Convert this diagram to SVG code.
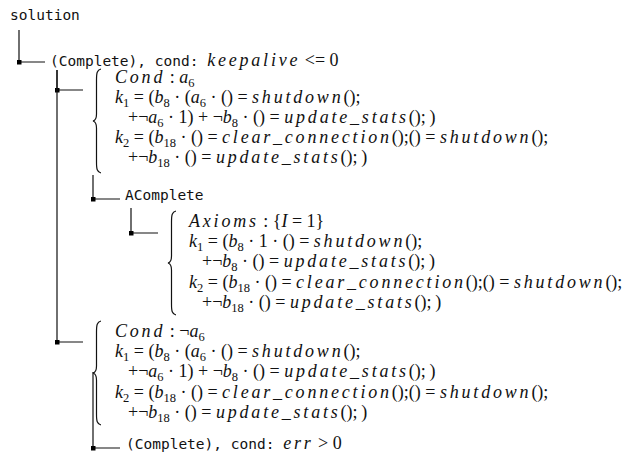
<svg xmlns="http://www.w3.org/2000/svg" width="634" height="455" viewBox="0 0 634 455">
<style>
.t{font-family:"DejaVu Sans Mono","Liberation Mono",monospace;font-size:14.5px;fill:#111}
.m{font-family:"Liberation Serif","Times New Roman",serif;font-size:18px;fill:#111}
.i{font-style:italic;letter-spacing:2.8px}
.v{font-style:italic}
.s{font-size:12.5px;baseline-shift:-3.5px}
.c{fill:none;stroke:#111;stroke-width:1.2;marker-mid:url(#sq)}
.b{fill:none;stroke:#111;stroke-width:1.2}
</style>
<defs>
<marker id="sq" markerWidth="5" markerHeight="5" refX="2.5" refY="2.5" markerUnits="userSpaceOnUse" orient="0"><rect width="5" height="5" fill="#000"/></marker>
</defs>
<g id="connectors">
<path class="c" d="M19,30 V62 H45"/>
<path class="c" d="M57,70 V90 H83"/>
<path class="c" d="M57,70 V342 H83"/>
<path class="c" d="M93,175 V199 H120"/>
<path class="c" d="M131,208 V233 H158"/>
<path class="c" d="M93,372 V448 H120"/>
</g>
<g id="node_solution"><text class="t" x="10" y="20">solution</text></g>
<g id="node_complete_keepalive"><text x="50" y="66"><tspan class="t">(Complete), cond: </tspan><tspan class="m"><tspan class="i">keepalive</tspan> &lt;= 0</tspan></text></g>
<g id="node_cond_a6">
<path class="b" d="M101,69 C97,70 96.5,73 96.5,80 L96.5,114 C96.5,118 95,120.5 93,121 C95,121.5 96.5,124 96.5,128 L96.5,162 C96.5,169 97,172 101,173"/>
<text class="m" x="115" y="83"><tspan class="i">Cond</tspan> : <tspan class="v">a</tspan><tspan class="s">6</tspan></text>
<text class="m" x="115" y="103"><tspan class="v">k</tspan><tspan class="s">1</tspan> = (<tspan class="v">b</tspan><tspan class="s">8</tspan>&#8197;·&#8197;(<tspan class="v">a</tspan><tspan class="s">6</tspan>&#8197;·&#8197;() = <tspan class="i">shutdown</tspan>();</text>
<text class="m" x="128" y="123">+&#172;<tspan class="v">a</tspan><tspan class="s">6</tspan>&#8197;·&#8197;1) + &#172;<tspan class="v">b</tspan><tspan class="s">8</tspan>&#8197;·&#8197;() = <tspan class="i">update_stats</tspan>();&#8201;)</text>
<text class="m" x="115" y="143"><tspan class="v">k</tspan><tspan class="s">2</tspan> = (<tspan class="v">b</tspan><tspan class="s">18</tspan>&#8197;·&#8197;() = <tspan class="i">clear_connection</tspan>();() = <tspan class="i">shutdown</tspan>();</text>
<text class="m" x="128" y="163">+&#172;<tspan class="v">b</tspan><tspan class="s">18</tspan>&#8197;·&#8197;() = <tspan class="i">update_stats</tspan>();&#8201;)</text>
</g>
<g id="node_acomplete"><text class="t" x="125" y="200">AComplete</text></g>
<g id="node_axioms">
<path class="b" d="M176,211 C172,212 171.5,215 171.5,222 L171.5,256 C171.5,260 170,262.5 168,263 C170,263.5 171.5,266 171.5,270 L171.5,304 C171.5,311 172,314 176,315"/>
<text class="m" x="189" y="227"><tspan class="i">Axioms</tspan> : {<tspan class="v">I</tspan> = 1}</text>
<text class="m" x="189" y="247"><tspan class="v">k</tspan><tspan class="s">1</tspan> = (<tspan class="v">b</tspan><tspan class="s">8</tspan>&#8197;·&#8197;1&#8197;·&#8197;() = <tspan class="i">shutdown</tspan>();</text>
<text class="m" x="202" y="267">+&#172;<tspan class="v">b</tspan><tspan class="s">8</tspan>&#8197;·&#8197;() = <tspan class="i">update_stats</tspan>();&#8201;)</text>
<text class="m" x="189" y="288"><tspan class="v">k</tspan><tspan class="s">2</tspan> = (<tspan class="v">b</tspan><tspan class="s">18</tspan>&#8197;·&#8197;() = <tspan class="i">clear_connection</tspan>();() = <tspan class="i">shutdown</tspan>();</text>
<text class="m" x="202" y="308">+&#172;<tspan class="v">b</tspan><tspan class="s">18</tspan>&#8197;·&#8197;() = <tspan class="i">update_stats</tspan>();&#8201;)</text>
</g>
<g id="node_cond_not_a6">
<path class="b" d="M101,321 C97,322 96.5,325 96.5,332 L96.5,366 C96.5,370 95,372.5 93,373 C95,373.5 96.5,376 96.5,380 L96.5,414 C96.5,421 97,424 101,425"/>
<text class="m" x="115" y="337"><tspan class="i">Cond</tspan> : &#172;<tspan class="v">a</tspan><tspan class="s">6</tspan></text>
<text class="m" x="115" y="357"><tspan class="v">k</tspan><tspan class="s">1</tspan> = (<tspan class="v">b</tspan><tspan class="s">8</tspan>&#8197;·&#8197;(<tspan class="v">a</tspan><tspan class="s">6</tspan>&#8197;·&#8197;() = <tspan class="i">shutdown</tspan>();</text>
<text class="m" x="128" y="377">+&#172;<tspan class="v">a</tspan><tspan class="s">6</tspan>&#8197;·&#8197;1) + &#172;<tspan class="v">b</tspan><tspan class="s">8</tspan>&#8197;·&#8197;() = <tspan class="i">update_stats</tspan>();&#8201;)</text>
<text class="m" x="115" y="398"><tspan class="v">k</tspan><tspan class="s">2</tspan> = (<tspan class="v">b</tspan><tspan class="s">18</tspan>&#8197;·&#8197;() = <tspan class="i">clear_connection</tspan>();() = <tspan class="i">shutdown</tspan>();</text>
<text class="m" x="128" y="418">+&#172;<tspan class="v">b</tspan><tspan class="s">18</tspan>&#8197;·&#8197;() = <tspan class="i">update_stats</tspan>();&#8201;)</text>
</g>
<g id="node_complete_err"><text x="126" y="449"><tspan class="t">(Complete), cond: </tspan><tspan class="m"><tspan class="i">err</tspan> &gt; 0</tspan></text></g>
</svg>
